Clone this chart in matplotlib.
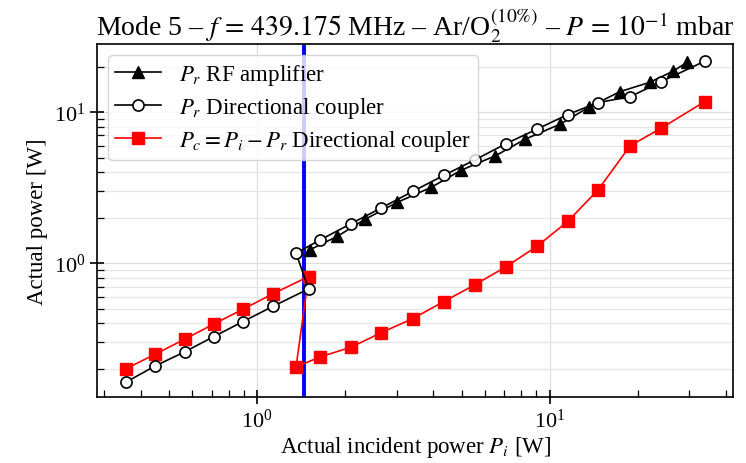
import numpy as np
import matplotlib
matplotlib.use("Agg")
import matplotlib.pyplot as plt

plt.rcParams["font.family"] = ["Liberation Serif", "DejaVu Serif"]
plt.rcParams["mathtext.fontset"] = "stix"

# Incident power P_i [W] (shared by directional coupler series)
p_inc = [0.358, 0.449, 0.566, 0.712, 0.896, 1.131, 1.50, 1.36, 1.645, 2.095, 2.66,
         3.405, 4.345, 5.535, 7.08, 9.06, 11.53, 14.64, 18.83, 24.09, 33.8]
pr_coupler = [0.164, 0.209, 0.259, 0.327, 0.411, 0.517, 0.676, 1.165, 1.427, 1.826, 2.323,
              2.985, 3.81, 4.81, 6.17, 7.72, 9.63, 11.56, 12.63, 15.92, 21.67]
pc_coupler = [0.201, 0.250, 0.314, 0.396, 0.496, 0.626, 0.816, 0.206, 0.240, 0.278, 0.347,
              0.430, 0.557, 0.718, 0.945, 1.296, 1.89, 3.06, 5.98, 7.84, 11.70]

# RF amplifier readings
p_inc_amp = [1.513, 1.877, 2.345, 3.009, 3.932, 4.992, 6.523, 8.26, 10.88, 13.59,
             17.35, 21.97, 26.33, 29.49]
pr_amp = [1.225, 1.502, 1.956, 2.523, 3.172, 4.13, 5.136, 6.625, 8.33, 10.74,
          13.63, 15.73, 18.60, 21.34]

p_threshold = 1.45

fig = plt.figure(figsize=(7.46, 4.64), dpi=100)
ax = fig.add_axes([0.130, 0.142, 0.853, 0.761])

ax.plot(p_inc_amp, pr_amp, "-", color="black", marker="^", ms=8, lw=1.2,
        label=r"$P_r$ RF amplifier", zorder=3)
ax.plot(p_inc, pr_coupler, "-", color="black", marker="o", ms=8, mfc="white",
        mec="black", mew=1.2, lw=1.2, label=r"$P_r$ Directional coupler", zorder=4)
ax.plot(p_inc, pc_coupler, "-", color="red", marker="s", ms=8, lw=1.2,
        label=r"$P_c = P_i - P_r$ Directional coupler", zorder=3)
ax.axvline(p_threshold, color="blue", lw=2.8, zorder=2)

ax.set_xscale("log")
ax.set_yscale("log")
ax.set_xlim(0.284, 42.4)
ax.set_ylim(0.13, 28.2)

ax.grid(True, which="major", axis="both", color="#dddddd", lw=0.9)
ax.grid(True, which="minor", axis="y", color="#e6e6e6", lw=0.9)
ax.set_axisbelow(True)

ax.tick_params(which="major", direction="inout", length=10, width=1.2, labelsize=16)
ax.tick_params(which="minor", direction="in", length=5, width=0.9)
for s in ax.spines.values():
    s.set_linewidth(1.2)

ax.set_xlabel(r"Actual incident power $P_i$ [W]", fontsize=16.5, labelpad=1)
ax.set_ylabel("Actual power [W]", fontsize=16.5, labelpad=4)
ax.set_title(r"Mode 5 – $f\,=\,439.175$ MHz – Ar/O$_2^{(10\%)}$ – $P\,=\,10^{-1}$ mbar",
             fontsize=20, pad=5)

leg = ax.legend(loc="upper left", fontsize=16.5, handlelength=2.0, borderpad=0.3,
                labelspacing=0.35, handletextpad=0.8, borderaxespad=0.5)
leg.get_frame().set_edgecolor("#cccccc")

fig.savefig("out.png", dpi=100)
